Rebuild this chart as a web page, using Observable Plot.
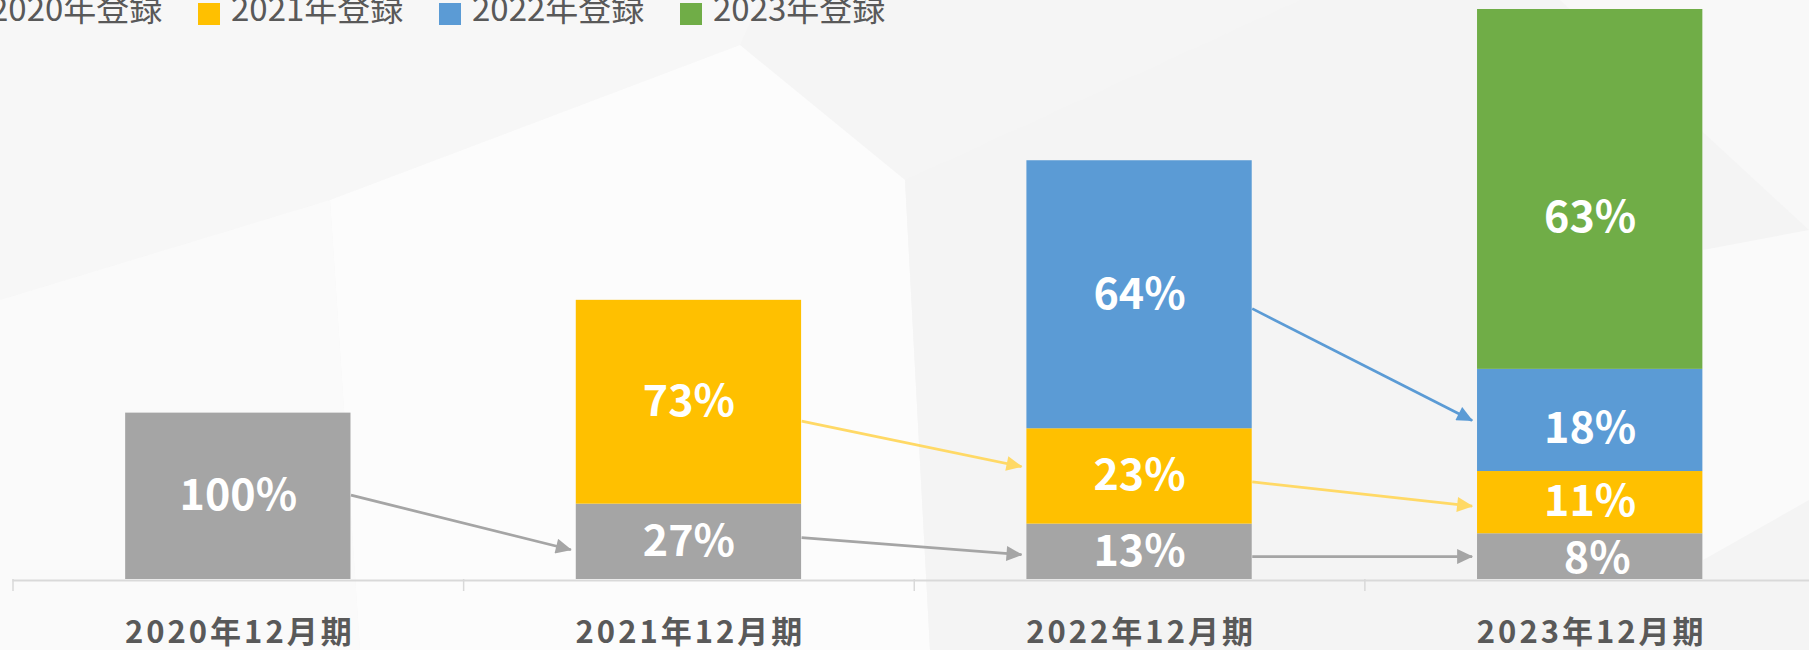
<!DOCTYPE html>
<html>
<head>
<meta charset="utf-8">
<script src="https://cdn.jsdelivr.net/npm/d3@7"></script>
<script src="https://cdn.jsdelivr.net/npm/@observablehq/plot@0.6"></script>
<style>
html, body { margin: 0; padding: 0; }
body { width: 1809px; height: 650px; overflow: hidden; font-family: "Noto Sans CJK JP", sans-serif; }
#wrap { position: relative; width: 1809px; height: 650px; overflow: hidden; background: #f5f5f5; }
.facet { position: absolute; left: 0; top: 0; width: 1809px; height: 650px; }
#chart { position: absolute; left: 0; top: 0; z-index: 1; }
#legend { position: absolute; left: 0; top: 0; width: 1809px; height: 40px; z-index: 2; }
.item { position: absolute; top: 0; height: 40px; width: 241px; }
.sw { position: absolute; left: 0; top: 3px; width: 22px; height: 22px; }
.lt { position: absolute; left: 33px; top: -9px; font-size: 33px; line-height: 33px; color: #595959; white-space: nowrap; }
</style>
</head>
<body>
<div id="wrap">
  <div class="facet" style="background:#f7f7f7; clip-path: polygon(0 0, 760px 0, 740px 45px, 330px 200px, 0 300px);"></div>
  <div class="facet" style="background:#fcfcfc; clip-path: polygon(330px 200px, 740px 45px, 905px 180px, 930px 650px, 360px 650px);"></div>
  <div class="facet" style="background:#fafafa; clip-path: polygon(0 300px, 330px 200px, 360px 650px, 0 650px);"></div>
  <div class="facet" style="background:#f4f4f4; clip-path: polygon(905px 180px, 1300px 0, 1560px 0, 1809px 230px, 1809px 650px, 930px 650px);"></div>
  <div class="facet" style="background:#f8f8f8; clip-path: polygon(1560px 0, 1809px 0, 1809px 230px);"></div>
  <div class="facet" style="background:#fafafa; clip-path: polygon(1703px 250px, 1809px 230px, 1809px 500px, 1703px 560px);"></div>
  <div id="chart"></div>
  <div id="legend"></div>
</div>
<script>
// ---- data ----
const periods = ["2020年12月期", "2021年12月期", "2022年12月期", "2023年12月期"];
const cohorts = ["2020年登録", "2021年登録", "2022年登録", "2023年登録"];
const cohortColors = ["#a5a5a5", "#ffc000", "#5b9bd5", "#70ad47"];
const arrowColors = ["#a5a5a5", "#ffd966", "#5b9bd5", "#70ad47"];

// segment sizes per registration cohort, by period (index units: 2020 total = 100)
const reg2020 = [100, 45.3, 33.3, 27.5];
const reg2021 = [null, 122.5, 57.3, 37.4];
const reg2022 = [null, null, 161.1, 61.4];
const reg2023 = [null, null, null, 216.3];

// share labels shown inside the segments
const share2020 = ["100%", "27%", "13%", "8%"];
const share2021 = [null, "73%", "23%", "11%"];
const share2022 = [null, null, "64%", "18%"];
const share2023 = [null, null, null, "63%"];

// transition arrows (from period index -> next period)
const arrowFrom = [0, 1, 1, 2, 2, 2];
const arrowCohort = [0, 1, 0, 2, 1, 0];
const arrowStartValue = [50.7, 95.2, 25.1, 162.8, 58.7, 13.8];
const arrowEndValue = [17.9, 67.9, 14.9, 95.6, 44.1, 13.8];

// ---- build tables ----
const series = [reg2020, reg2021, reg2022, reg2023];
const shares = [share2020, share2021, share2022, share2023];
const periodIndex = periods.map((_, i) => i);
const rows = [];
for (const i of periodIndex) {
  let acc = 0;
  series.forEach((s, c) => {
    const v = s[i];
    if (v == null) return;
    rows.push({i, c, y1: acc, y2: acc + v, label: shares[c][i]});
    acc += v;
  });
}
const totals = periodIndex.map(i => d3.sum(series, s => s[i] ?? 0));
const arrows = arrowFrom.map((f, k) => ({from: f, to: f + 1, c: arrowCohort[k], y1: arrowStartValue[k], y2: arrowEndValue[k]}));
const boundaries = [...periodIndex.map(i => i - 0.5), periodIndex.length - 0.5];

const half = 0.25;      // half bar width (band fraction)
const endGap = 0.012;   // small gap before the target bar

const labelFont = {fill: "white", fontSize: 43, fontWeight: "bold"};
const isGreen = d => d.c === 3;
const isBlue2023 = d => d.c === 2 && d.i === 3;
const isSmallLast = d => d.c === 0 && d.i === 3;

const chart = Plot.plot({
  width: 1809,
  height: 650,
  marginTop: 9,
  marginBottom: 71,
  marginLeft: 12.5,
  marginRight: 0,
  style: {background: "transparent", fontFamily: "'Noto Sans CJK JP', sans-serif", overflow: "hidden"},
  x: {domain: [-0.5, 3.5], range: [12.5, 1815], axis: null, label: null},
  y: {domain: [0, d3.max(totals)], axis: null, label: null},
  color: {type: "identity"},
  marks: [
    Plot.ruleY([0], {stroke: "#d9d9d9", strokeWidth: 2, dy: 1}),
    Plot.axisX({ticks: boundaries, tickSize: 12, tickFormat: () => "", label: null, stroke: "#d9d9d9", strokeWidth: 1.5}),
    Plot.rect(rows, {x1: d => d.i - half, x2: d => d.i + half, y1: "y1", y2: "y2", fill: d => cohortColors[d.c]}),
    Plot.link(arrows, {
      x1: d => d.from + half,
      x2: d => d.to - half - endGap,
      y1: "y1",
      y2: "y2",
      stroke: d => arrowColors[d.c],
      strokeWidth: 2.75,
      markerEnd: "arrow"
    }),
    Plot.text(rows.filter(d => !isGreen(d) && !isBlue2023(d) && !isSmallLast(d)), {x: "i", y: d => (d.y1 + d.y2) / 2, text: "label", ...labelFont}),
    Plot.text(rows.filter(isGreen), {x: "i", y: d => (d.y1 + d.y2) / 2, text: "label", dy: 29, ...labelFont}),
    Plot.text(rows.filter(isBlue2023), {x: "i", y: d => (d.y1 + d.y2) / 2, text: "label", dy: 9, ...labelFont}),
    Plot.text(rows.filter(isSmallLast), {x: "i", y: d => (d.y1 + d.y2) / 2, text: "label", dx: 7, dy: 3, ...labelFont}),
    Plot.text(periodIndex, {x: d => d, text: d => periods[d], frameAnchor: "bottom", lineAnchor: "top", dy: 41, dx: 1.5, fontSize: 31, fontWeight: "bold", fill: "#595959"})
  ]
});

// wider tracking on the period labels, like the reference typeface
chart.querySelectorAll("text").forEach(t => {
  if (periods.includes(t.textContent)) t.style.letterSpacing = "3px";
});

// filled triangular arrowheads (restyle Plot's arrow markers)
const svgNS = "http://www.w3.org/2000/svg";
chart.querySelectorAll("marker").forEach(m => {
  const oldPath = m.querySelector("path");
  const color = m.getAttribute("stroke") || (oldPath && oldPath.getAttribute("stroke")) || "#a5a5a5";
  for (const a of ["viewBox", "markerWidth", "markerHeight", "markerUnits", "refX", "refY", "fill", "stroke", "stroke-width", "stroke-linecap", "stroke-linejoin"]) m.removeAttribute(a);
  while (m.firstChild) m.removeChild(m.firstChild);
  m.setAttribute("viewBox", "-16 -7.5 17 15");
  m.setAttribute("markerUnits", "userSpaceOnUse");
  m.setAttribute("markerWidth", "17");
  m.setAttribute("markerHeight", "15");
  m.setAttribute("refX", "0");
  m.setAttribute("refY", "0");
  m.setAttribute("orient", "auto");
  const p = document.createElementNS(svgNS, "path");
  p.setAttribute("d", "M-15,-7.5L1,0L-15,7.5Z");
  p.setAttribute("fill", color);
  p.setAttribute("stroke", "none");
  m.appendChild(p);
});
document.getElementById("chart").appendChild(chart);

// ---- legend (partially cut at the left/top like the reference) ----
const legend = document.getElementById("legend");
cohorts.forEach((name, c) => {
  const item = document.createElement("div");
  item.className = "item";
  item.style.left = (-43 + 241 * c) + "px";
  const sw = document.createElement("div");
  sw.className = "sw";
  sw.style.background = cohortColors[c];
  const t = document.createElement("div");
  t.className = "lt";
  t.textContent = name;
  item.appendChild(sw);
  item.appendChild(t);
  legend.appendChild(item);
});
</script>
</body>
</html>
